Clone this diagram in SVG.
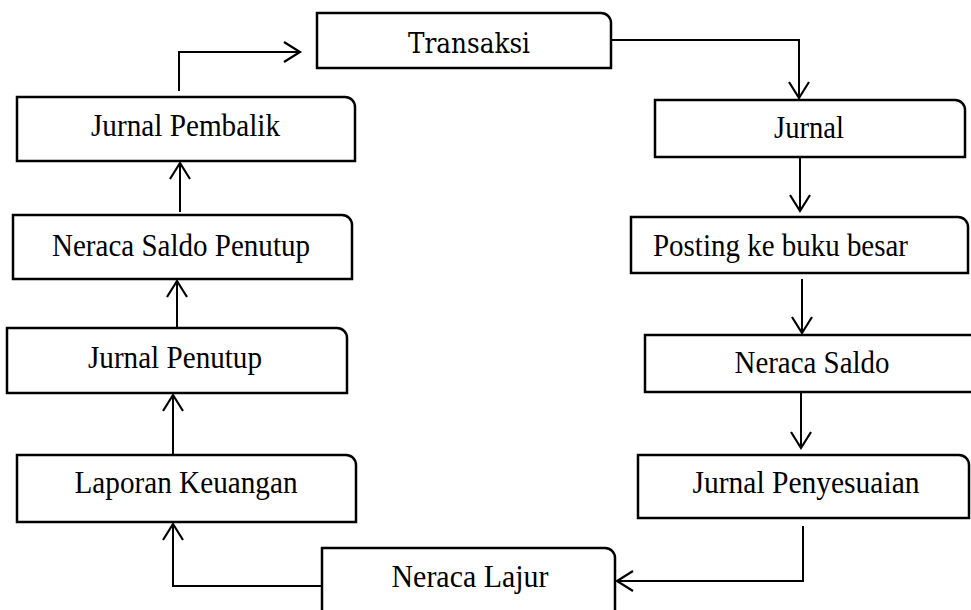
<svg xmlns="http://www.w3.org/2000/svg" width="971" height="610" viewBox="0 0 971 610">
<style>
.box{fill:#fff;stroke:#000;stroke-width:2.5}
.lbl{font-family:"Liberation Serif","Times New Roman",serif;font-size:31px;fill:#000;text-anchor:middle}
.lbl2{font-family:"DejaVu Serif","Liberation Serif",serif;font-size:27px;fill:#000;text-anchor:middle}
.con{fill:none;stroke:#000;stroke-width:2}
</style>
<defs>
<marker id="ah" markerUnits="userSpaceOnUse" markerWidth="24" markerHeight="24" viewBox="-20 -12 24 24" refX="0" refY="0" orient="auto">
<path d="M-16,-10 L0,0 L-16,10" fill="none" stroke="#000" stroke-width="2.2"/>
</marker>
</defs>
<rect width="971" height="610" fill="#fff"/>
<g id="connectors">
<path class="con" d="M179,91 V52 H300" marker-end="url(#ah)"/>
<path class="con" d="M611,40 H799 V98" marker-end="url(#ah)"/>
<path class="con" d="M800,158 V211" marker-end="url(#ah)"/>
<path class="con" d="M802,279 V333" marker-end="url(#ah)"/>
<path class="con" d="M801,393 V448" marker-end="url(#ah)"/>
<path class="con" d="M803,526 V581 H617" marker-end="url(#ah)"/>
<path class="con" d="M322,586 H173 V524" marker-end="url(#ah)"/>
<path class="con" d="M173,455 V395" marker-end="url(#ah)"/>
<path class="con" d="M177,328 V281" marker-end="url(#ah)"/>
<path class="con" d="M180,212 V163" marker-end="url(#ah)"/>
</g>
<g id="transaksi">
<path class="box" d="M317,13 H601 A10,10 0 0 1 611,23 V68 H317 Z"/>
<text class="lbl2" x="469" y="53" textLength="122" lengthAdjust="spacingAndGlyphs">Transaksi</text>
</g>
<g id="jurnal">
<path class="box" d="M655,100 H955 A10,10 0 0 1 965,110 V157 H655 Z"/>
<text class="lbl" x="809" y="138" textLength="70" lengthAdjust="spacingAndGlyphs">Jurnal</text>
</g>
<g id="posting">
<path class="box" d="M631,217 H958 A10,10 0 0 1 968,227 V273 H631 Z"/>
<text class="lbl" x="780.5" y="256" textLength="255" lengthAdjust="spacingAndGlyphs">Posting ke buku besar</text>
</g>
<g id="neraca-saldo">
<path class="box" d="M645,335 H976 V392 H645 Z"/>
<text class="lbl" x="812" y="373" textLength="155" lengthAdjust="spacingAndGlyphs">Neraca Saldo</text>
</g>
<g id="jurnal-penyesuaian">
<path class="box" d="M638,455 H959 A10,10 0 0 1 969,465 V518 H638 Z"/>
<text class="lbl" x="806" y="493" textLength="227" lengthAdjust="spacingAndGlyphs">Jurnal Penyesuaian</text>
</g>
<g id="neraca-lajur">
<path class="box" d="M322,548 H605 A10,10 0 0 1 615,558 V616 H322 Z"/>
<text class="lbl" x="470" y="587" textLength="157" lengthAdjust="spacingAndGlyphs">Neraca Lajur</text>
</g>
<g id="laporan-keuangan">
<path class="box" d="M17,455 H346 A10,10 0 0 1 356,465 V522 H17 Z"/>
<text class="lbl" x="186" y="493" textLength="223" lengthAdjust="spacingAndGlyphs">Laporan Keuangan</text>
</g>
<g id="jurnal-penutup">
<path class="box" d="M7,328 H337 A10,10 0 0 1 347,338 V393 H7 Z"/>
<text class="lbl" x="175" y="368" textLength="174" lengthAdjust="spacingAndGlyphs">Jurnal Penutup</text>
</g>
<g id="neraca-saldo-penutup">
<path class="box" d="M13,215 H342 A10,10 0 0 1 352,225 V279 H13 Z"/>
<text class="lbl" x="181" y="256" textLength="258" lengthAdjust="spacingAndGlyphs">Neraca Saldo Penutup</text>
</g>
<g id="jurnal-pembalik">
<path class="box" d="M17,97 H345 A10,10 0 0 1 355,107 V161 H17 Z"/>
<text class="lbl" x="185.5" y="136" textLength="189" lengthAdjust="spacingAndGlyphs">Jurnal Pembalik</text>
</g>
</svg>
